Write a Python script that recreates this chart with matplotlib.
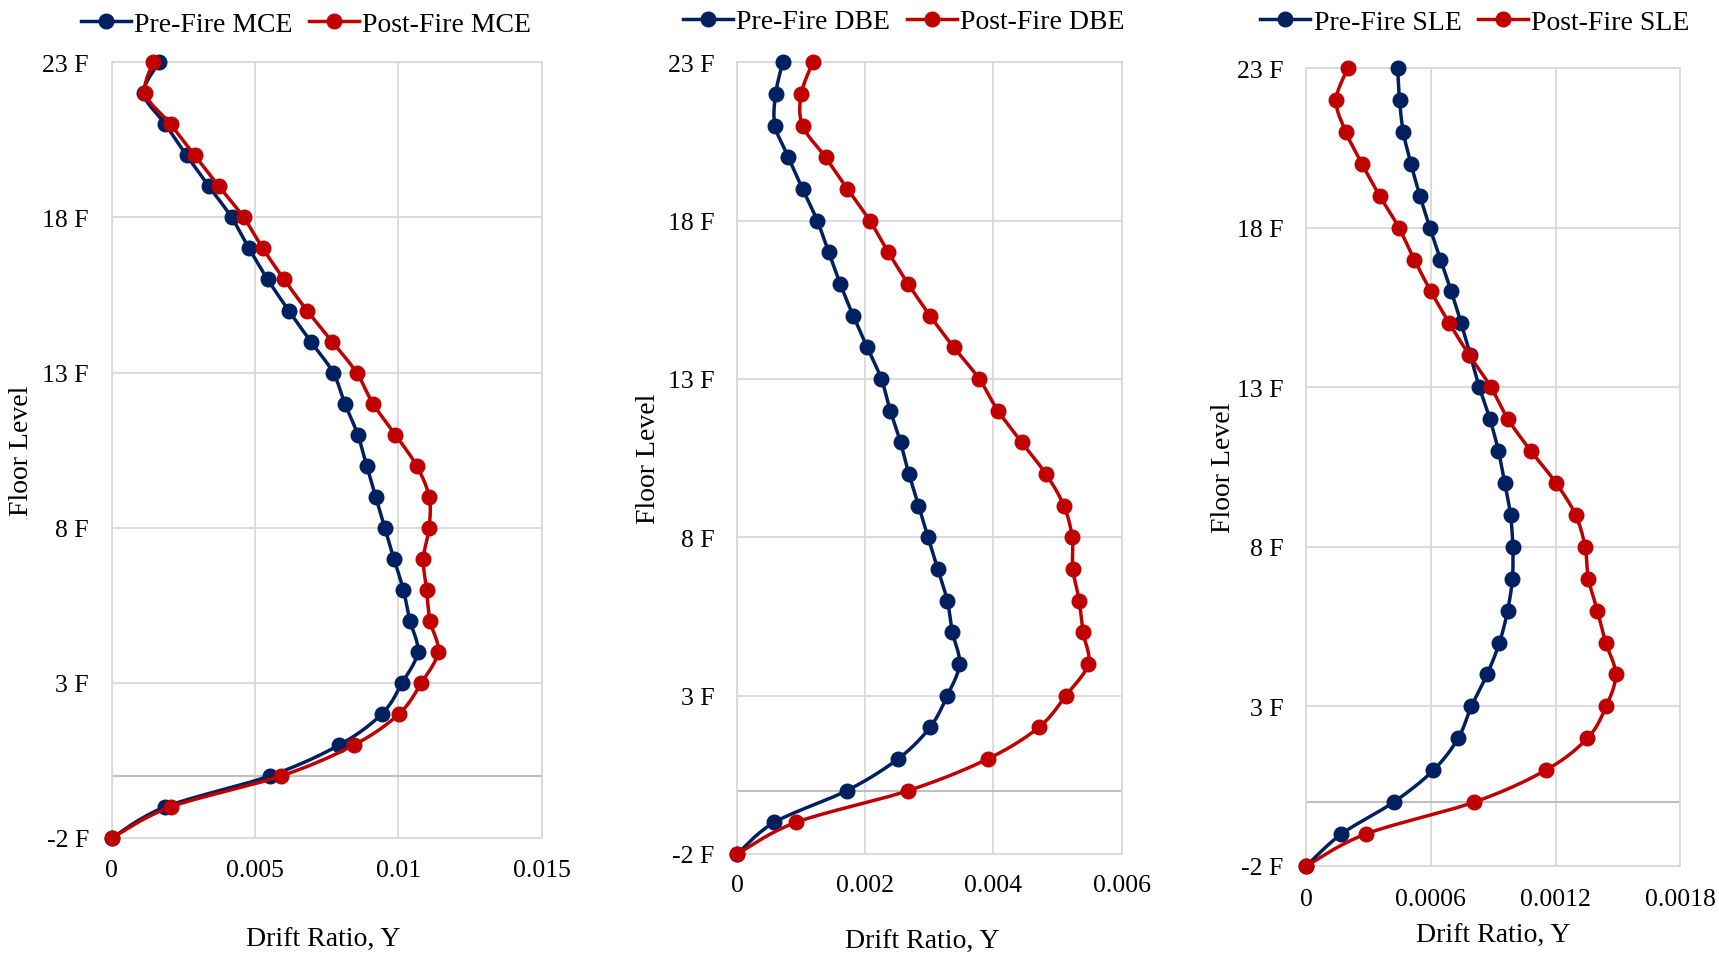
import numpy as np
import matplotlib
matplotlib.use("Agg")
import matplotlib.pyplot as plt

plt.rcParams["font.family"] = ["Liberation Serif", "DejaVu Serif"]

# Floor levels, bottom to top
floors = list(range(-2, 24))
floor_ticks = [-2, 3, 8, 13, 18, 23]
floor_tick_labels = ["-2 F", "3 F", "8 F", "13 F", "18 F", "23 F"]

# Story drift ratios (Y direction), one value per floor from -2 F to 23 F
pre_mce = [0, 0.00186, 0.00551, 0.00794, 0.00942, 0.01013, 0.01067, 0.01040, 0.01017,
           0.00984, 0.00952, 0.00921, 0.00889, 0.00858, 0.00813, 0.00772, 0.00694,
           0.00617, 0.00544, 0.00479, 0.00418, 0.00339, 0.00261, 0.00187, 0.00112, 0.00165]
post_mce = [0, 0.00205, 0.00591, 0.00845, 0.01002, 0.01080, 0.01138, 0.01110, 0.01098,
            0.01087, 0.01107, 0.01107, 0.01063, 0.00989, 0.00911, 0.00854, 0.00768,
            0.00681, 0.00601, 0.00527, 0.00460, 0.00374, 0.00289, 0.00205, 0.00117, 0.00144]

pre_dbe = [0, 0.00058, 0.00171, 0.00251, 0.00301, 0.00328, 0.00347, 0.00336, 0.00328,
           0.00313, 0.00298, 0.00283, 0.00268, 0.00255, 0.00239, 0.00225, 0.00203,
           0.00181, 0.00161, 0.00143, 0.00125, 0.00102, 0.00080, 0.00059, 0.00060, 0.00071]
post_dbe = [0, 0.00092, 0.00267, 0.00391, 0.00471, 0.00513, 0.00548, 0.00540, 0.00534,
            0.00524, 0.00523, 0.00510, 0.00482, 0.00444, 0.00407, 0.00378, 0.00338,
            0.00301, 0.00267, 0.00236, 0.00207, 0.00172, 0.00138, 0.00102, 0.00100, 0.00118]

pre_sle = [0, 0.000169, 0.000421, 0.000612, 0.000731, 0.000795, 0.000870, 0.000930, 0.000969,
           0.000992, 0.000994, 0.000983, 0.000955, 0.000925, 0.000884, 0.000833, 0.000790,
           0.000746, 0.000698, 0.000646, 0.000595, 0.000547, 0.000504, 0.000467, 0.000449, 0.000440]
post_sle = [0, 0.000286, 0.000808, 0.001152, 0.001353, 0.001443, 0.001489, 0.001441, 0.001401,
            0.001358, 0.001342, 0.001296, 0.001202, 0.001081, 0.000971, 0.000889, 0.000785,
            0.000689, 0.000600, 0.000520, 0.000446, 0.000353, 0.000268, 0.000190, 0.000144, 0.000201]

mce_ticks = [0, 0.005, 0.01, 0.015]
mce_tick_labels = ["0", "0.005", "0.01", "0.015"]
dbe_ticks = [0, 0.002, 0.004, 0.006]
dbe_tick_labels = ["0", "0.002", "0.004", "0.006"]
sle_ticks = [0, 0.0006, 0.0012, 0.0018]
sle_tick_labels = ["0", "0.0006", "0.0012", "0.0018"]

BLUE = "#002060"
RED = "#C00000"
GRID = "#D9D9D9"
ZERO = "#BFBFBF"

W, H = 1719, 954
fig = plt.figure(figsize=(W / 100, H / 100), dpi=100)


def smooth(x, y, n=16):
    """Catmull-Rom curve through the points (smoothed line style)."""
    p = np.column_stack([x, y]).astype(float)
    p = np.vstack([p[0], p, p[-1]])
    out = []
    t = np.linspace(0, 1, n, endpoint=False)
    for i in range(1, len(p) - 2):
        p0, p1, p2, p3 = p[i - 1], p[i], p[i + 1], p[i + 2]
        c1 = p1 + (p2 - p0) / 6.0
        c2 = p2 - (p3 - p1) / 6.0
        tt = t[:, None]
        seg = ((1 - tt) ** 3) * p1 + 3 * ((1 - tt) ** 2) * tt * c1 + 3 * (1 - tt) * tt ** 2 * c2 + tt ** 3 * p2
        out.append(seg)
    out.append(p[-2][None, :])
    out = np.vstack(out)
    return out[:, 0], out[:, 1], n


panels = [
    dict(box=(111.8, 63.3, 541.8, 839), pre=pre_mce, post=post_mce, tag="MCE",
         xmax=0.015, ticks=mce_ticks, labels=mce_tick_labels,
         leg=(306, 25.3), ylab=(-0.209, 0.5), xlab=(0.492, -0.131), xpad=15),
    dict(box=(737.2, 63.3, 1121.5, 855), pre=pre_dbe, post=post_dbe, tag="DBE",
         xmax=0.006, ticks=dbe_ticks, labels=dbe_tick_labels,
         leg=(904, 22.5), ylab=(-0.232, 0.5), xlab=(0.481, -0.1105), xpad=14.5),
    dict(box=(1306.2, 69, 1680.3, 867), pre=pre_sle, post=post_sle, tag="SLE",
         xmax=0.0018, ticks=sle_ticks, labels=sle_tick_labels,
         leg=(1475, 23.4), ylab=(-0.22, 0.5), xlab=(0.4995, -0.087), xpad=16),
]

for pnl in panels:
    l, t, r, b = pnl["box"]
    ax = fig.add_axes([l / W, 1 - b / H, (r - l) / W, (b - t) / H])
    ax.set_xlim(0, pnl["xmax"])
    ax.set_ylim(-2, 23)
    ax.set_xticks(pnl["ticks"])
    ax.set_xticklabels(pnl["labels"])
    ax.set_yticks(floor_ticks)
    ax.set_yticklabels(floor_tick_labels)
    ax.tick_params(axis="both", length=0, labelsize=18.5)
    ax.tick_params(axis="x", pad=pnl["xpad"])
    ax.tick_params(axis="y", pad=16.5)
    ax.grid(True, color=GRID, lw=1.3)
    ax.set_axisbelow(True)
    for s in ax.spines.values():
        s.set_color(GRID)
        s.set_linewidth(1.3)
    ax.axhline(0, color=ZERO, lw=1.5, zorder=1)

    handles = []
    for vals, col, name in [(pnl["pre"], BLUE, "Pre-Fire"), (pnl["post"], RED, "Post-Fire")]:
        sx, sy, n = smooth(vals, floors)
        ln, = ax.plot(sx, sy, color=col, lw=2.5, marker="o", ms=10.5,
                      markevery=n, clip_on=False, zorder=3,
                      label=f"{name} {pnl['tag']}")
        handles.append(ln)

    ax.set_ylabel("Floor Level", fontsize=20)
    ax.yaxis.set_label_coords(*pnl["ylab"])
    ax.yaxis.label.set_verticalalignment("center")
    ax.set_xlabel("Drift Ratio, Y", fontsize=20)
    ax.xaxis.set_label_coords(*pnl["xlab"])
    ax.xaxis.label.set_verticalalignment("center")

    lx, ly = pnl["leg"]
    ax.legend(handles=handles, loc="center", bbox_to_anchor=(lx / W, 1 - ly / H),
              bbox_transform=fig.transFigure, ncol=2, frameon=False, fontsize=20,
              handlelength=1.8, handletextpad=0.12, columnspacing=0.6,
              borderaxespad=0, borderpad=0)

fig.savefig("out.png", dpi=100)
